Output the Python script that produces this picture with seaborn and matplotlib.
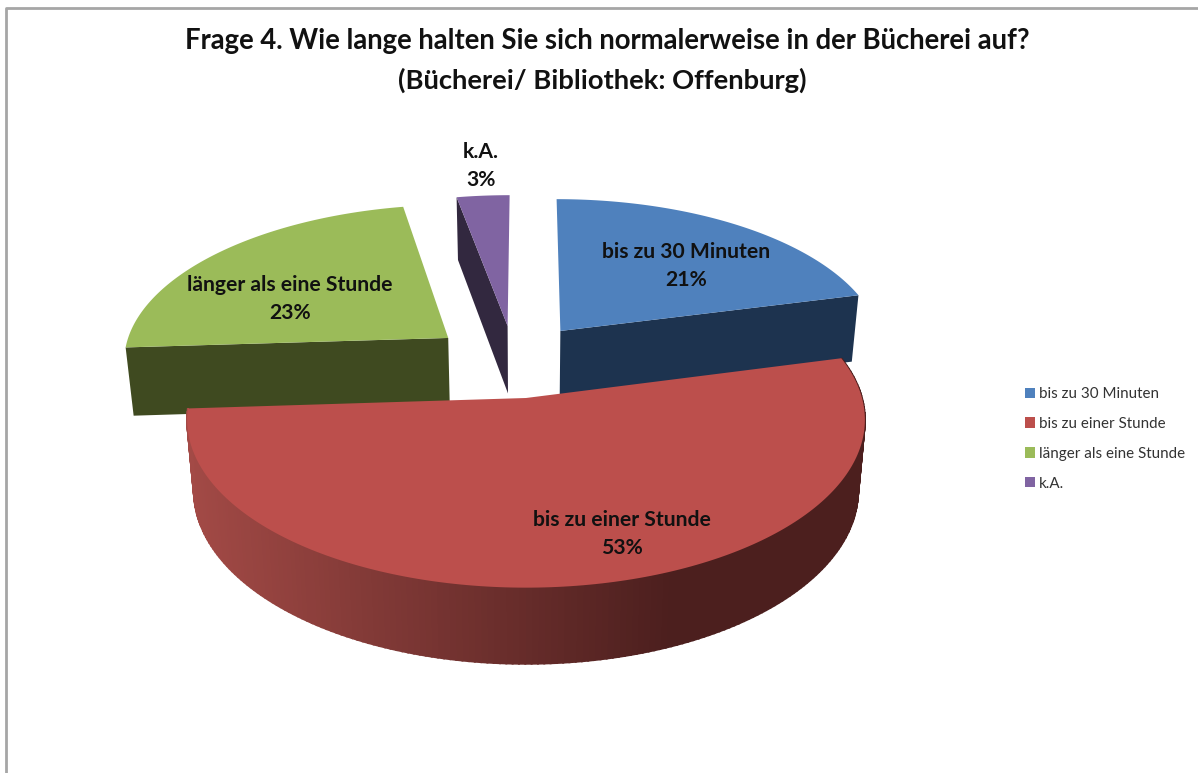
import numpy as np
import seaborn as sns
import matplotlib.pyplot as plt
from matplotlib.colors import to_rgb
from matplotlib.patches import Patch

# data
categories = ['bis zu 30 Minuten', 'bis zu einer Stunde', 'länger als eine Stunde', 'k.A.']
values = [21, 53, 23, 3]
title_lines = ['Frage 4. Wie lange halten Sie sich normalerweise in der Bücherei auf?',
               '(Bücherei/ Bibliothek: Offenburg)']

# look of the slices
top_colors = sns.color_palette(['#4F81BD', '#BC4F4C', '#9BBB59', '#8064A2'])
side_colors = ['#1D334F', '#7A302E', '#3F4A20', '#32283F']
explode = [(0.108, 0.429), (0, 0), (-0.243, 0.382), (-0.058, 0.463)]
label_pos = [(686, 266), (622, 534), (290, 299), (481, 166)]

# projection of the tilted pie onto the picture
CX, CY = 526, 398
FX, FY, PERSP = 336, 165, 0.13
DEPTH = 70


def project(x, y, z=0.0):
    w = 1 + PERSP * y
    px = CX + FX * x / w * (1 - 0.02 * z)
    return px, CY - FY * y / w + z * DEPTH / (1 + 0.08 * y)


def wall_shade(px):
    # the red wall goes dark towards the right, then stays dark
    light = np.array(to_rgb('#A34A46'))
    dark = np.array(to_rgb('#4C1F1E'))
    t = np.clip((px - 185) / (670 - 185), 0, 1)
    return tuple(light + (dark - light) * t)


sns.set_theme(style='white')
plt.rcParams['font.family'] = ['Lato', 'DejaVu Sans']

fig = plt.figure(figsize=(11.98, 7.73), dpi=100)
ax = fig.add_axes([0, 0, 1, 1])
ax.set_xlim(0, 1198)
ax.set_ylim(773, 0)
ax.axis('off')

# picture frame, only top and left are visible
ax.plot([5.5, 5.5, 1198], [773, 8, 8], color='#A6A6A6', lw=2, solid_capstyle='butt')

# slice angles, clockwise from the top
ends = np.cumsum(values) / sum(values) * 2 * np.pi
starts = np.concatenate([[0], ends[:-1]])

# back slices first, red one last
for i in [3, 2, 0, 1]:
    ox, oy = explode[i]
    th = np.linspace(starts[i], ends[i], 200)
    rim_x = ox + np.sin(th)
    rim_y = oy + np.cos(th)

    if i == 1:
        # curved outer wall with the gradient
        for a, b in zip(th[:-1], th[1:]):
            xs = ox + np.sin([a, b])
            ys = oy + np.cos([a, b])
            x0, y0 = project(xs, ys)
            x1, y1 = project(xs, ys, 1)
            c = wall_shade(x0.mean())
            ax.fill(np.r_[x0, x1[::-1]], np.r_[y0, y1[::-1]], color=c, lw=1.4)
    else:
        # radial wall that faces the viewer
        wall_th = {0: ends[0], 2: starts[2], 3: starts[3]}[i]
        xs = np.array([ox, ox + np.sin(wall_th)])
        ys = np.array([oy, oy + np.cos(wall_th)])
        x0, y0 = project(xs, ys)
        x1, y1 = project(xs, ys, 1)
        ax.fill(np.r_[x0, x1[::-1]], np.r_[y0, y1[::-1]], color=side_colors[i], lw=0)

    px, py = project(np.r_[ox, rim_x], np.r_[oy, rim_y])
    ax.fill(px, py, color=top_colors[i], lw=0)

# data labels
for name, val, pos in zip(categories, values, label_pos):
    ax.text(pos[0], pos[1], f'{name}\n{val}%', ha='center', va='center', fontsize=15.2,
            fontweight='bold', color='#111111', linespacing=1.53)

# title
ax.text(607, 41, title_lines[0], ha='center', va='center', fontsize=19.8, fontweight='bold', color='#111111')
ax.text(602, 80, title_lines[1], ha='center', va='center', fontsize=19.7, fontweight='bold', color='#111111')

# legend
handles = [Patch(facecolor=c, edgecolor='none') for c in top_colors]
ax.legend(handles, categories, loc='upper left', bbox_to_anchor=(1025 / 1198, 1 - 387 / 773),
          frameon=False, fontsize=10.9, labelcolor='#333333', handlelength=0.66, handleheight=0.66,
          handletextpad=0.27, labelspacing=1.05, borderpad=0, borderaxespad=0)

fig.savefig('out.png', dpi=100)
